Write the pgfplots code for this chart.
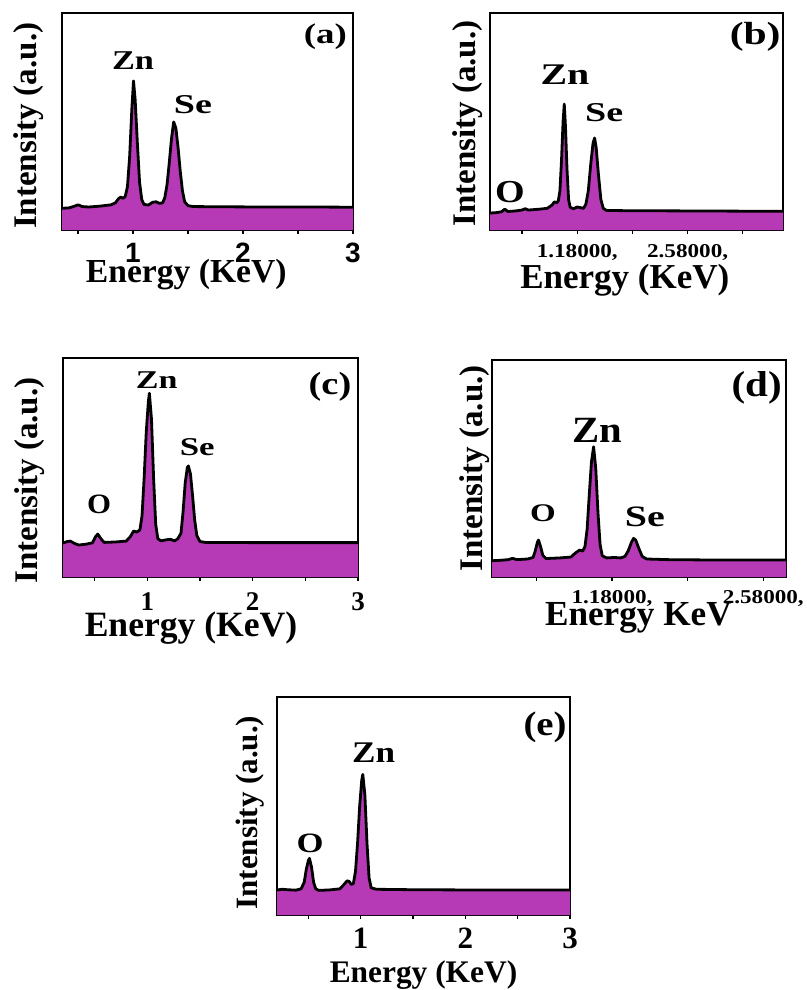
\documentclass[border=0pt]{standalone}
\usepackage{graphicx}
\usepackage{pgfplots}
\pgfplotsset{compat=1.18}
\usepackage{fontspec}
\setmainfont{Liberation Serif}
\setsansfont{Liberation Sans}
\definecolor{edsfill}{RGB}{182,58,182}
\newcommand{\fs}[1]{\fontsize{#1}{#1}\selectfont\bfseries}
\newcommand{\tA}[1]{\hbox{\sffamily\fs{14}#1}}
\newcommand{\tB}[1]{\hbox{\rmfamily\fs{9.8}\scalebox{1.18}[1]{#1}}}
\newcommand{\tC}[1]{\hbox{\rmfamily\fs{13.5}#1}}
\newcommand{\tE}[1]{\hbox{\rmfamily\fs{15.5}#1}}
\newcommand{\lab}[4]{\node[font=\fs{#1}] at (rel axis cs:#3) {\scalebox{#2}[1]{#4}};}
\pgfplotsset{
  eds/.style={
    scale only axis, ymin=0, ymax=100, ytick=\empty,
    axis line style={line width=1.2pt},
    tick style={black, line width=0.6pt},
    tick align=outside, xtick pos=bottom, major tick length=2pt,
    xticklabel style={anchor=base, inner sep=0pt},
    clip=true,
  },
  spec/.style={draw=none, fill=edsfill, forget plot},
  curve/.style={black, line width=1.4pt, line join=round},
}
\begin{document}
\begin{tikzpicture}
\useasboundingbox (0,0) rectangle (403.5pt,-495pt);
% ---------------- (a)
\begin{axis}[eds, at={(31pt,-115pt)}, anchor=south west,
  width=145.5pt, height=108.5pt, xmin=0.355, xmax=3,
  xtick={0.5,1,1.5,2,2.5,3}, xticklabels={,\tA{1},,\tA{2},,\tA{3}},
  xticklabel style={yshift=-14pt},
  xlabel={Energy (KeV)}, ylabel={Intensity (a.u.)},
  xlabel style={font=\fs{16.8}, at={(axis description cs:0.427,0)}, anchor=base, yshift=-26pt},
  ylabel style={font=\fs{16.5}, at={(axis description cs:0,0.48)}, anchor=center, yshift=16.75pt}]
\def\dataA{(0.355,10)(0.42,10.2)(0.47,11)(0.50,11.6)(0.54,10.8)(0.60,10.6)(0.70,11)(0.80,11.6)(0.84,12.5)(0.87,14.5)(0.89,15.2)(0.91,14.6)(0.93,15.5)(0.95,20)(0.97,34)(0.99,56)(1.005,68.7)(1.02,60)(1.04,40)(1.06,22)(1.08,14)(1.10,11.8)(1.14,11.5)(1.18,12.8)(1.21,13)(1.24,12.3)(1.27,12.5)(1.29,15)(1.31,21)(1.33,31)(1.35,42)(1.37,49.8)(1.39,47)(1.41,38)(1.43,27)(1.45,18)(1.47,13)(1.50,11.2)(1.55,10.8)(1.8,10.7)(2.2,10.6)(2.6,10.6)(3.0,10.5)}
\addplot[spec] coordinates {\dataA} \closedcycle;
\addplot[curve] coordinates {\dataA};
\lab{13.6}{1.26}{0.244,0.78}{Zn}
\lab{13.6}{1.4}{0.45,0.576}{Se}
\lab{14.2}{1.3}{0.905,0.89}{(a)}
\end{axis}
% ---------------- (b)
\begin{axis}[eds, at={(245pt,-115pt)}, anchor=south west,
  width=146.5pt, height=108.5pt, xmin=0.073, xmax=3.79,
  xtick={0.48,1.18,1.88,2.58,3.28}, xticklabels={,\tB{1.18000,},,\tB{2.58000,},},
  xticklabel style={yshift=-11.5pt},
  xlabel={Energy (KeV)}, ylabel={Intensity (a.u.)},
  xlabel style={font=\fs{17.5}, at={(axis description cs:0.46,0)}, anchor=base, yshift=-29pt},
  ylabel style={font=\fs{16.5}, at={(axis description cs:0,0.49)}, anchor=center, yshift=11pt}]
\def\dataB{(0.073,7.8)(0.15,8)(0.22,8.4)(0.26,9.6)(0.30,8.5)(0.40,8.8)(0.48,9.2)(0.52,9.8)(0.56,9.2)(0.70,9.6)(0.80,10)(0.86,11.5)(0.89,13)(0.92,12.5)(0.94,13.5)(0.96,18)(0.98,32)(1.00,50)(1.015,58)(1.03,48)(1.05,28)(1.07,14)(1.09,10.5)(1.13,9.8)(1.18,10.6)(1.22,10.3)(1.26,10)(1.29,12)(1.32,18)(1.35,30)(1.38,40)(1.40,42.4)(1.42,38)(1.45,25)(1.48,14)(1.51,10)(1.55,9)(1.8,8.9)(2.5,8.8)(3.79,8.6)}
\addplot[spec] coordinates {\dataB} \closedcycle;
\addplot[curve] coordinates {\dataB};
\lab{16}{1.19}{0.068,0.175}{O}
\lab{15}{1.33}{0.256,0.714}{Zn}
\lab{13.6}{1.4}{0.39,0.54}{Se}
\lab{16}{1.3}{0.905,0.89}{(b)}
\end{axis}
% ---------------- (c)
\begin{axis}[eds, at={(31.5pt,-288.5pt)}, anchor=south west,
  width=147.5pt, height=109.5pt, xmin=0.2, xmax=3,
  xtick={0.5,1,1.5,2,2.5,3}, xticklabels={,\tC{1},,\tC{2},,\tC{3}},
  xticklabel style={yshift=-14.5pt},
  xlabel={Energy (KeV)}, ylabel={Intensity (a.u.)},
  xlabel style={font=\fs{17.8}, at={(axis description cs:0.434,0)}, anchor=base, yshift=-29.5pt},
  ylabel style={font=\fs{16.5}, at={(axis description cs:0,0.44)}, anchor=center, yshift=16.5pt}]
\def\dataC{(0.20,15.5)(0.24,16.2)(0.27,16.4)(0.31,15.3)(0.35,14.6)(0.42,15)(0.48,15.6)(0.51,18.5)(0.53,19.6)(0.56,17.5)(0.59,15.8)(0.70,16)(0.80,16.4)(0.84,18.5)(0.87,21)(0.90,20.5)(0.93,21.5)(0.95,28)(0.97,45)(0.99,66)(1.01,80)(1.02,83.9)(1.04,72)(1.06,45)(1.08,24)(1.10,17.5)(1.13,16.5)(1.18,17)(1.22,17.2)(1.26,16.5)(1.29,17.5)(1.32,20)(1.34,30)(1.36,43)(1.38,50)(1.39,50.7)(1.41,47)(1.43,37)(1.45,26)(1.47,19)(1.50,16.2)(1.55,15.8)(2.0,15.7)(3.0,15.7)}
\addplot[spec] coordinates {\dataC} \closedcycle;
\addplot[curve] coordinates {\dataC};
\lab{14}{1.1}{0.122,0.33}{O}
\lab{12.8}{1.33}{0.318,0.90}{Zn}
\lab{12.8}{1.36}{0.455,0.594}{Se}
\lab{16}{1.2}{0.905,0.87}{(c)}
\end{axis}
% ---------------- (d)
\begin{axis}[eds, at={(246pt,-288.5pt)}, anchor=south west,
  width=147pt, height=108.5pt, xmin=0.07, xmax=2.79,
  xtick={0.48,1.18,1.88,2.58}, xticklabels={,\tB{1.18000,},,\tB{2.58000,}},
  xticklabel style={yshift=-11pt},
  xlabel={Energy KeV}, ylabel={Intensity (a.u.)},
  xlabel style={font=\fs{17.6}, at={(axis description cs:0.498,0)}, anchor=base, yshift=-24pt},
  ylabel style={font=\fs{16.5}, at={(axis description cs:0,0.50)}, anchor=center, yshift=8.5pt}]
\def\dataD{(0.07,7.5)(0.15,7.7)(0.22,8)(0.26,8.6)(0.30,8)(0.40,8.3)(0.45,9)(0.47,12)(0.49,16)(0.50,17)(0.52,14)(0.54,10)(0.57,8.5)(0.70,8.8)(0.80,9.2)(0.84,11)(0.88,12.4)(0.91,12)(0.93,14)(0.95,22)(0.97,38)(0.99,53)(1.01,60)(1.03,50)(1.05,30)(1.07,15)(1.09,9.8)(1.13,8.8)(1.20,9)(1.26,8.8)(1.30,9.5)(1.33,12)(1.36,16)(1.38,17.8)(1.40,17)(1.43,13)(1.46,9.5)(1.50,8.3)(1.7,8)(2.2,7.8)(2.79,7.8)}
\addplot[spec] coordinates {\dataD} \closedcycle;
\addplot[curve] coordinates {\dataD};
\lab{12.7}{1.3}{0.173,0.295}{O}
\lab{18.5}{1.1}{0.357,0.677}{Zn}
\lab{14.8}{1.35}{0.52,0.277}{Se}
\lab{18}{1.14}{0.9,0.87}{(d)}
\end{axis}
% ---------------- (e)
\begin{axis}[eds, at={(138.5pt,-457.5pt)}, anchor=south west,
  width=146.5pt, height=109pt, xmin=0.2, xmax=3,
  xtick={0.5,1,1.5,2,2.5,3}, xticklabels={,\tE{1},,\tE{2},,\tE{3}},
  xticklabel style={yshift=-14.5pt},
  xlabel={Energy (KeV)}, ylabel={Intensity (a.u.)},
  xlabel style={font=\fs{15.7}, at={(axis description cs:0.5,0)}, anchor=base, yshift=-33.5pt},
  ylabel style={font=\fs{15.5}, at={(axis description cs:0,0.47)}, anchor=center, yshift=13.5pt}]
\def\dataE{(0.20,11.5)(0.25,11.8)(0.30,11.6)(0.38,11.4)(0.43,12)(0.46,15)(0.48,21)(0.50,25)(0.51,26)(0.53,22)(0.55,15)(0.57,12)(0.60,11.3)(0.70,11.5)(0.80,12)(0.84,14)(0.87,15.7)(0.89,15.4)(0.91,14)(0.93,14.5)(0.95,20)(0.97,33)(0.99,50)(1.01,62)(1.02,64.5)(1.04,55)(1.06,33)(1.08,17)(1.10,12.5)(1.15,11.8)(1.5,11.6)(2.0,11.5)(3.0,11.5)}
\addplot[spec] coordinates {\dataE} \closedcycle;
\addplot[curve] coordinates {\dataE};
\lab{14}{1.24}{0.113,0.33}{O}
\lab{15}{1.17}{0.33,0.743}{Zn}
\lab{17}{1.14}{0.915,0.86}{(e)}
\end{axis}
\end{tikzpicture}
\end{document}
